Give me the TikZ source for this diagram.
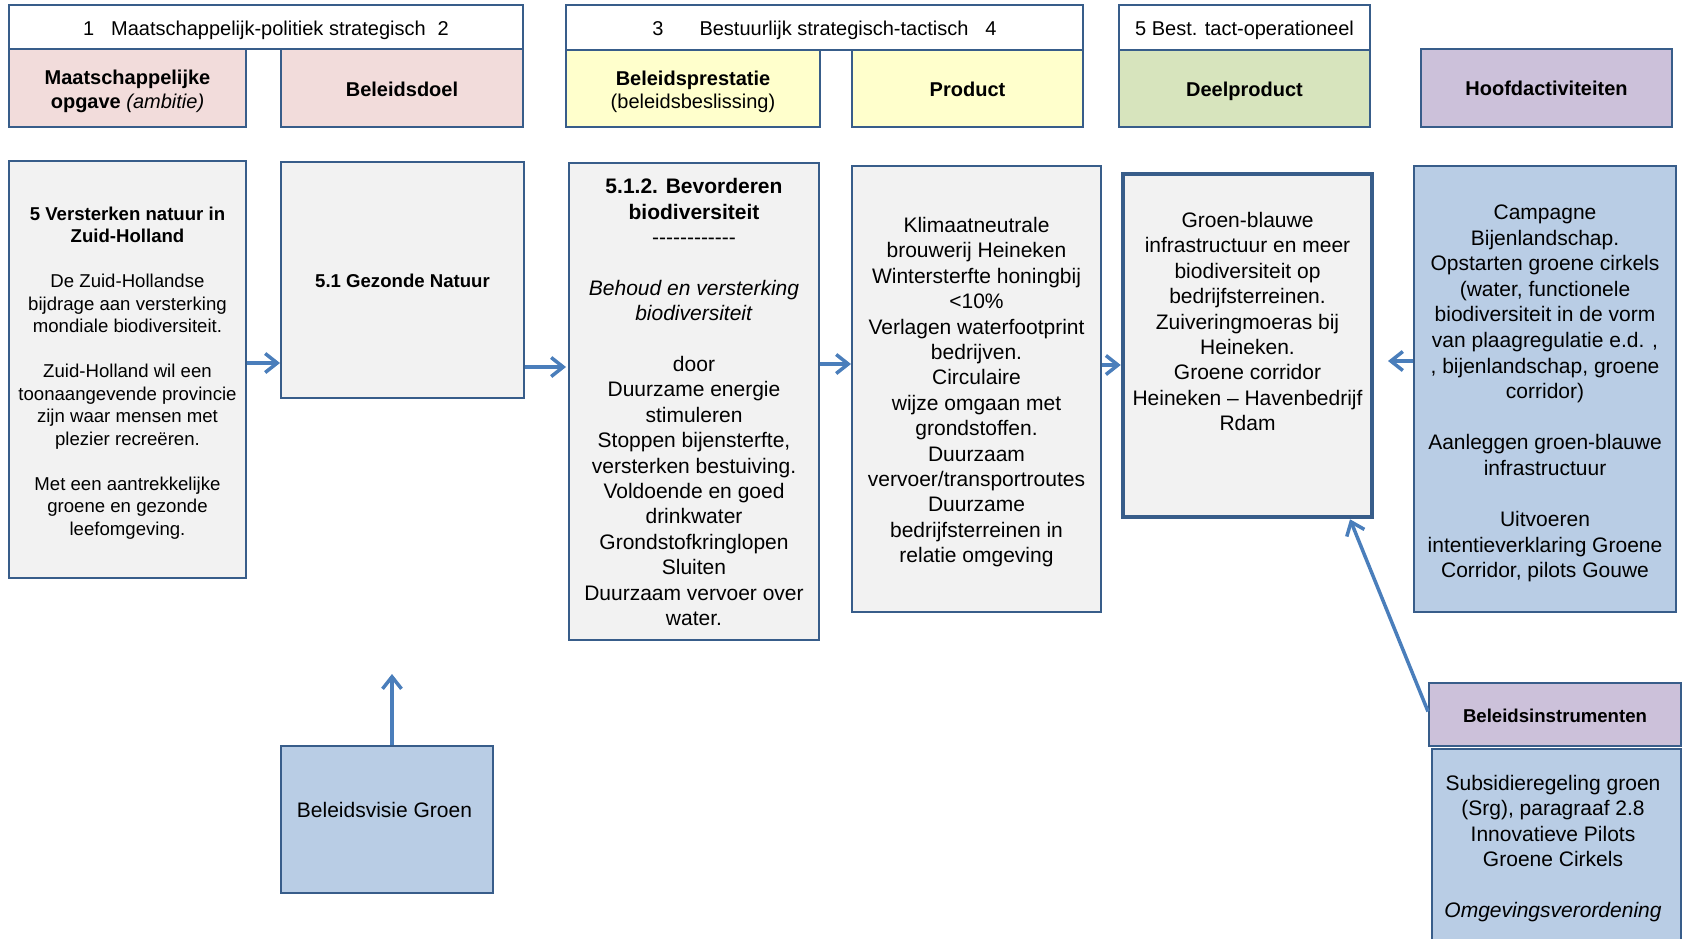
\documentclass[tikz,border=0pt]{standalone}
\usepackage{fontspec}
\setmainfont{Liberation Sans}
\newfontfamily\nolig{Liberation Sans}[Ligatures=TeXOff]
\usetikzlibrary{arrows.meta}
\definecolor{bordc}{HTML}{385D8A}
\definecolor{arrc}{HTML}{4A7EBB}
\definecolor{pinkc}{HTML}{F2DCDB}
\definecolor{yelc}{HTML}{FFFFCC}
\definecolor{grnc}{HTML}{D7E4BD}
\definecolor{purc}{HTML}{CCC1DA}
\definecolor{grayc}{HTML}{F2F2F2}
\definecolor{bluec}{HTML}{B9CDE5}
\begin{document}
\begin{tikzpicture}[x=1pt,y=-1pt,
  box/.style={draw=bordc, line width=2pt, rectangle, inner sep=0pt},
  hdr/.style={box, fill=white},
  txt/.style={align=center, inner sep=0pt, text=black},
  hdrt/.style={txt, font=\fontsize{20}{24}\selectfont},
  catt/.style={txt, font=\fontsize{20}{23.6}\selectfont},
  small/.style={txt, font=\fontsize{18.6}{22.5}\selectfont},
  big/.style={txt, font=\fontsize{21}{25.4}\selectfont},
  arr/.style={draw=arrc, line width=3.5pt, -{Straight Barb[length=12pt,width=19pt]}}
]
\useasboundingbox (0,0) rectangle (1685,938);
% header row boxes
\node[hdr, minimum width=514pt, minimum height=44pt] (h1) at (266,27) {};
\node[box, fill=pinkc, minimum width=237pt, minimum height=78pt] (maat) at (127.5,88) {};
\node[box, fill=pinkc, minimum width=242pt, minimum height=78pt] (doel) at (402,88) {};
\node[hdr, minimum width=517pt, minimum height=45pt] (h2) at (824.5,27.5) {};
\node[box, fill=yelc, minimum width=254pt, minimum height=77pt] (prest) at (693,88.5) {};
\node[box, fill=yelc, minimum width=231pt, minimum height=77pt] (prod) at (967.5,88.5) {};
\node[hdr, minimum width=251pt, minimum height=45pt] (h3) at (1244.5,27.5) {};
\node[box, fill=grnc, minimum width=251pt, minimum height=77pt] (deel) at (1244.5,88.5) {};
\node[box, fill=purc, minimum width=251pt, minimum height=78pt] (hoofd) at (1546.5,88) {};
% header row texts
\node[hdrt] (h1t) at ([yshift=-3.2pt]h1.center)
  {1\hspace{17pt}Maatschappelijk-politiek strategisch\hspace{12pt}2};
\node[catt] (maatt) at ([yshift=-3.2pt]maat.center)
  {\textbf{Maatschappelijke}\\\textbf{opgave} \textit{(ambitie)}};
\node[catt] (doelt) at ([yshift=-1pt]doel.center) {\textbf{Beleidsdoel}};
\node[hdrt] (h2t) at ([yshift=-3.2pt]h2.center)
  {3\hspace{36pt}Bestuurlijk strategisch-tactisch\hspace{17pt}4};
\node[catt] (prestt) at ([yshift=-3.2pt]prest.center)
  {\textbf{Beleidsprestatie}\\(beleidsbeslissing)};
\node[catt] (prodt) at ([yshift=-1pt]prod.center) {\textbf{Product}};
\node[hdrt] (h3t) at ([yshift=-3.2pt]h3.center) {5 Best. tact-operationeel};
\node[catt] (deelt) at ([yshift=-3pt]deel.center) {\textbf{Deelproduct}};
\node[catt] (hoofdt) at (hoofd.center) {\textbf{Hoofdactiviteiten}};
% main row boxes
\node[box, fill=grayc, minimum width=237pt, minimum height=417pt] (box1) at (127.5,369.5) {};
\node[box, fill=grayc, minimum width=243pt, minimum height=236pt] (box2) at (402.5,280) {};
\node[box, fill=grayc, minimum width=250pt, minimum height=477pt] (box3) at (694,401.5) {};
\node[box, fill=grayc, minimum width=249pt, minimum height=446pt] (box4) at (976.5,389) {};
\node[box, line width=4.5pt, fill=grayc, minimum width=249pt, minimum height=343pt] (box5) at (1247.5,345.5) {};
\node[box, fill=bluec, minimum width=262pt, minimum height=446pt] (box6) at (1545,389) {};
% main row texts
\node[small] (box1t) at ([yshift=-3.2pt]box1.center)
  {\textbf{5 Versterken natuur in}\\\textbf{Zuid-Holland}\\[22.5pt]De Zuid-Hollandse\\bijdrage aan versterking\\mondiale biodiversiteit.\\[22.5pt]Zuid-Holland wil een\\toonaangevende provincie\\zijn waar mensen met\\plezier recreëren.\\[22.5pt]Met een aantrekkelijke\\groene en gezonde\\leefomgeving.};
\node[small] (box2t) at ([yshift=-1pt]box2.center) {\textbf{5.1 Gezonde Natuur}};
\node[big] (box3t) at ([yshift=-0.6pt]box3.center)
  {\textbf{5.1.2. Bevorderen}\\\textbf{biodiversiteit}\\{\nolig ------------}\\[25.4pt]\textit{Behoud en versterking}\\\textit{biodiversiteit}\\[25.4pt]door\\Duurzame energie\\stimuleren\\Stoppen bijensterfte,\\versterken bestuiving.\\Voldoende en goed\\drinkwater\\Grondstofkringlopen\\Sluiten\\Duurzaam vervoer over\\water.};
\node[big] (box4t) at ([yshift=-3.2pt]box4.center)
  {Klimaatneutrale\\brouwerij Heineken\\Wintersterfte honingbij\\<10\%\\Verlagen waterfootprint\\bedrijven.\\Circulaire\\wijze omgaan met\\grondstoffen.\\Duurzaam\\vervoer/transportroutes\\Duurzame\\bedrijfsterreinen in\\relatie omgeving};
\node[big] (box5t) at (1247.5,321.6)
  {Groen-blauwe\\infrastructuur en meer\\biodiversiteit op\\bedrijfsterreinen.\\Zuiveringmoeras bij\\Heineken.\\Groene corridor\\Heineken – Havenbedrijf\\Rdam};
\node[font=\fontsize{21}{25.6}\selectfont, txt] (box6t) at ([yshift=-4.5pt]box6.center)
  {Campagne\\Bijenlandschap.\\Opstarten groene cirkels\\(water, functionele\\biodiversiteit in de vorm\\van plaagregulatie e.d. ,\\, bijenlandschap, groene\\corridor)\\[25.6pt]Aanleggen groen-blauwe\\infrastructuur\\[25.6pt]Uitvoeren\\intentieverklaring Groene\\Corridor, pilots Gouwe};
% bottom
\node[box, fill=bluec, minimum width=212pt, minimum height=147pt] (visie) at (387,819.5) {};
\node[big] (visiet) at (384.5,810) {Beleidsvisie Groen};
\node[box, fill=purc, minimum width=252pt, minimum height=63pt] (instrH) at (1555,714.5) {};
\node[small] (instrHt) at ([yshift=-1pt]instrH.center) {\textbf{Beleidsinstrumenten}};
\node[box, fill=bluec, minimum width=249pt, minimum height=200pt] (instrB) at (1556.5,849) {};
\node[big] (instrt) at (1553,848.6)
  {Subsidieregeling groen\\(Srg), paragraaf 2.8\\Innovatieve Pilots\\Groene Cirkels\\[25.4pt]\textit{Omgevingsverordening}};
% arrows
\coordinate (ya) at (0,363);
\coordinate (yb) at (0,367);
\coordinate (yc) at (0,364);
\coordinate (yd) at (0,365);
\coordinate (e5) at (1388,361);
\coordinate (vt) at (392,674);
\draw[arr] (box1.east |- ya) -- (box2.west |- ya);
\draw[arr, shorten >=2pt] (box2.east |- yb) -- (box3.west |- yb);
\draw[arr] (box3.east |- yc) -- (box4.west |- yc);
\draw[arr] (box4.east |- yd) -- (box5.west |- yd);
\draw[arr] (box6.west |- e5) -- (e5);
\draw[arr] ([yshift=3pt]instrH.west) -- ([xshift=102.5pt]box5.south);
\draw[arr] (visie.north -| vt) -- (vt);
\end{tikzpicture}
\end{document}
